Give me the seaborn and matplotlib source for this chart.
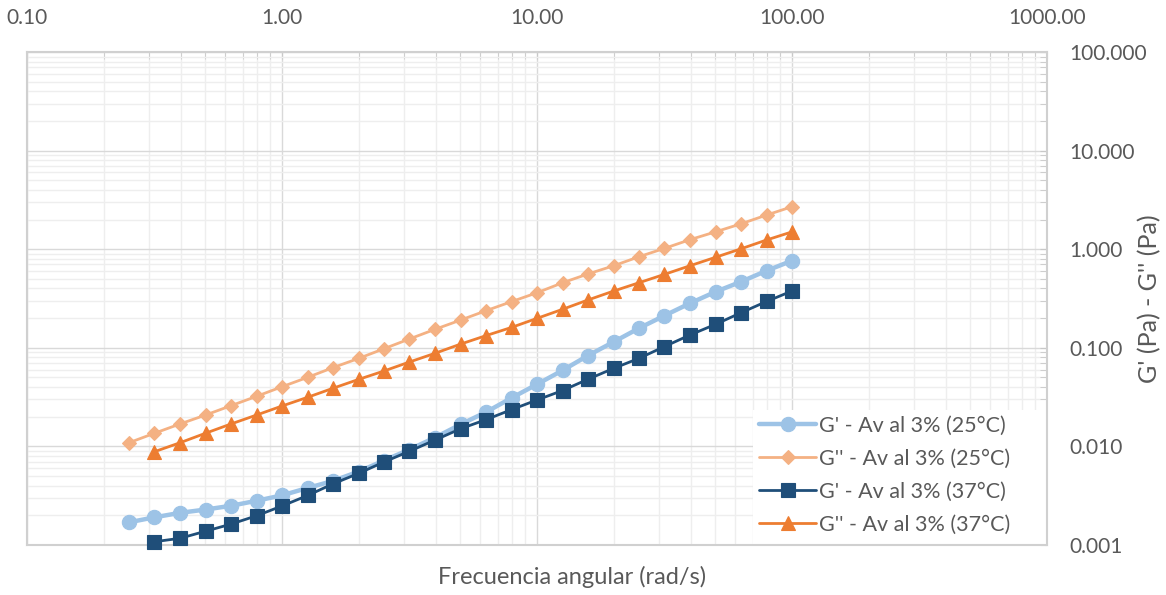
import pandas as pd
import seaborn as sns
from matplotlib import pyplot as plt
from matplotlib.patches import Rectangle
from matplotlib.ticker import LogLocator, FormatStrFormatter, NullFormatter

# angular frequency (rad/s), 10 points per decade
freq = [0.251, 0.316, 0.398, 0.501, 0.631, 0.794, 1.0, 1.26, 1.58, 2.0,
        2.51, 3.16, 3.98, 5.01, 6.31, 7.94, 10.0, 12.6, 15.8, 20.0,
        25.1, 31.6, 39.8, 50.1, 63.1, 79.4, 100.0]

# moduli (Pa)
g1_25 = [0.00170, 0.00191, 0.00212, 0.00229, 0.00250, 0.00281, 0.00319, 0.00379,
         0.00446, 0.00556, 0.00719, 0.00930, 0.0123, 0.0167, 0.0223, 0.0310,
         0.0427, 0.0591, 0.0832, 0.115, 0.158, 0.212, 0.283, 0.370, 0.468,
         0.605, 0.765]
g2_25 = [0.0109, 0.0136, 0.0169, 0.0208, 0.0259, 0.0322, 0.0403, 0.0502,
         0.0628, 0.0782, 0.0979, 0.123, 0.154, 0.191, 0.238, 0.294, 0.362,
         0.457, 0.560, 0.680, 0.839, 1.02, 1.25, 1.50, 1.81, 2.22, 2.70]
# the 37 °C runs start at the second frequency
g1_37 = [0.00108, 0.00117, 0.00138, 0.00163, 0.00198, 0.00249, 0.00318,
         0.00416, 0.00534, 0.00695, 0.00894, 0.0116, 0.0151, 0.0187, 0.0236,
         0.0296, 0.0369, 0.0479, 0.0620, 0.0782, 0.103, 0.135, 0.173, 0.227,
         0.295, 0.377]
g2_37 = [0.00884, 0.0109, 0.0136, 0.0169, 0.0208, 0.0257, 0.0315, 0.0388,
         0.0479, 0.0582, 0.0718, 0.0880, 0.109, 0.133, 0.161, 0.199, 0.246,
         0.305, 0.377, 0.457, 0.556, 0.680, 0.828, 1.01, 1.24, 1.50]

labels = ["G' - Av al 3% (25°C)", "G'' - Av al 3% (25°C)",
          "G' - Av al 3% (37°C)", "G'' - Av al 3% (37°C)"]

df = pd.concat([
    pd.DataFrame({"freq": freq, "mod": g1_25, "serie": labels[0]}),
    pd.DataFrame({"freq": freq, "mod": g2_25, "serie": labels[1]}),
    pd.DataFrame({"freq": freq[1:], "mod": g1_37, "serie": labels[2]}),
    pd.DataFrame({"freq": freq[1:], "mod": g2_37, "serie": labels[3]}),
])

# color, marker, marker size, line width
styles = {
    labels[0]: ("#9DC3E6", "o", 10.3, 3.2),
    labels[1]: ("#F4B183", "D", 7.2, 2.0),
    labels[2]: ("#1F4E79", "s", 9.6, 2.0),
    labels[3]: ("#ED7D31", "^", 10.5, 2.0),
}

sns.set_style("white")
plt.rcParams["font.family"] = ["Lato", "DejaVu Sans"]
text_color = "#595959"

fig = plt.figure(figsize=(11.66, 5.95), dpi=100)
ax = fig.add_axes([0.0232, 0.084, 0.8748, 0.8286])

for i, lab in enumerate(labels):
    color, marker, ms, lw = styles[lab]
    sns.lineplot(
        data=df[df["serie"] == lab], x="freq", y="mod", ax=ax,
        color=color, marker=marker, markersize=ms, linewidth=lw,
        markeredgecolor=color, markeredgewidth=0.8, label=lab,
        clip_on=False, estimator=None, sort=False, zorder=3 + i,
    )

ax.set_xscale("log")
ax.set_yscale("log")
ax.set_xlim(0.1, 1000)
ax.set_ylim(0.001, 100)

ax.xaxis.set_major_locator(LogLocator(base=10))
ax.xaxis.set_minor_locator(LogLocator(base=10, subs=range(2, 10)))
ax.yaxis.set_major_locator(LogLocator(base=10))
ax.yaxis.set_minor_locator(LogLocator(base=10, subs=range(2, 10)))
ax.xaxis.set_major_formatter(FormatStrFormatter("%.2f"))
ax.yaxis.set_major_formatter(FormatStrFormatter("%.3f"))
ax.xaxis.set_minor_formatter(NullFormatter())
ax.yaxis.set_minor_formatter(NullFormatter())

ax.grid(which="major", color="#D9D9D9", linewidth=1.0)
ax.grid(which="minor", color="#EEEEEE", linewidth=1.0)
ax.set_axisbelow(True)

for sp in ax.spines.values():
    sp.set_color("#D0D0D0")
    sp.set_linewidth(1.5)

ax.tick_params(axis="x", which="both", top=True, bottom=False, labeltop=True,
               labelbottom=False, direction="in", length=5, color="#C8C8C8",
               pad=17, labelsize=15, labelcolor=text_color)
ax.tick_params(axis="y", which="both", right=True, left=False, labelright=True,
               labelleft=False, direction="in", length=5, color="#C8C8C8",
               pad=16, labelsize=15, labelcolor=text_color)

ax.set_xlabel("Frecuencia angular (rad/s)", fontsize=17, color=text_color)
ax.xaxis.set_label_position("bottom")
ax.xaxis.set_label_coords(0.534, -0.065)
ax.xaxis.label.set_verticalalignment("center")
ax.set_ylabel("G' (Pa) - G'' (Pa)", fontsize=18, color=text_color)
ax.yaxis.set_label_position("right")
ax.yaxis.set_label_coords(1.101, 0.5)
ax.yaxis.label.set_verticalalignment("center")

# white legend area, wider than the entries as in the original
ax.add_patch(Rectangle((0.712, 0.0), 0.288, 0.274, transform=ax.transAxes,
                       facecolor="white", edgecolor="none", zorder=2))
leg = ax.legend(loc="upper left", bbox_to_anchor=(0.718, 0.262), fontsize=15.5,
                frameon=False, borderaxespad=0.0, borderpad=0.0,
                handlelength=2.65, handletextpad=0.1, labelspacing=0.6)
leg.set_zorder(10)
for t in leg.get_texts():
    t.set_color(text_color)

fig.savefig("out.png", dpi=100, facecolor="white")
